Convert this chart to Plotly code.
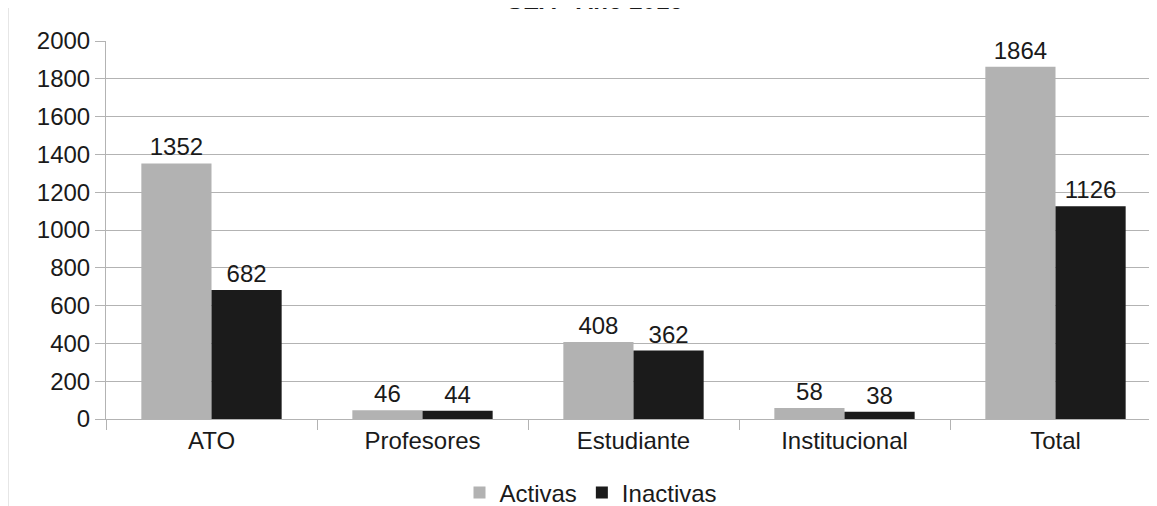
import plotly.graph_objects as go

categories = ["ATO", "Profesores", "Estudiante", "Institucional", "Total"]
activas = [1352, 46, 408, 58, 1864]
inactivas = [682, 44, 362, 38, 1126]
series_names = ["Activas", "Inactivas"]
title_text = "SEA - Año 2016"

# page body has an 8px offset; all positions below are figure pixels
OFF = 8
W, H = 1157, 506
L, T = 106 - OFF, 41 - OFF
B = H - (419 - OFF)
plot_right = 1161 - OFF
R = W - plot_right if plot_right < W else 0
pw = plot_right - L if plot_right < W else W - L
ph = H - T - B

FONT = "Liberation Sans, Arial, sans-serif"
fs = 24

fig = go.Figure()
fig.add_trace(go.Bar(
    x=categories, y=activas, name=series_names[0],
    marker=dict(color="#b2b2b2", line=dict(width=0)),
    text=activas, textposition="outside", cliponaxis=False,
    textfont=dict(family=FONT, size=fs, color="#1a1a1a"),
))
fig.add_trace(go.Bar(
    x=categories, y=inactivas, name=series_names[1],
    marker=dict(color="#1b1b1b", line=dict(width=0)),
    text=inactivas, textposition="outside", cliponaxis=False,
    textfont=dict(family=FONT, size=fs, color="#1a1a1a"),
))

fig.update_layout(
    width=W, height=H,
    margin=dict(l=L, r=R, t=T, b=B, pad=0, autoexpand=False),
    paper_bgcolor="white", plot_bgcolor="white",
    barmode="group", bargap=0.335, bargroupgap=0,
    font=dict(family=FONT, size=fs, color="#1a1a1a"),
    showlegend=True,
    legend=dict(orientation="h", xref="container", yref="container",
                x=(591 - OFF) / W, xanchor="center",
                y=1 - (493 - OFF) / H, yanchor="middle",
                font=dict(family=FONT, size=fs, color="#1a1a1a"),
                itemwidth=30, tracegroupgap=0, itemsizing="constant"),
)
fig.update_xaxes(
    range=[-0.5, 4.5], showgrid=False, automargin=False,
    showline=True, linecolor="#b3b3b3", linewidth=1,
    ticks="outside", tickson="boundaries", ticklen=10, tickcolor="#b3b3b3",
    tickfont=dict(family=FONT, size=fs, color="#1a1a1a"),
)
fig.update_yaxes(
    range=[0, 2000], dtick=200, showgrid=True, gridcolor="#b3b3b3", gridwidth=1,
    showline=True, linecolor="#b3b3b3", linewidth=1, automargin=False,
    ticks="outside", ticklen=10, tickcolor="#b3b3b3",
    tickfont=dict(family=FONT, size=fs, color="#1a1a1a"),
    zeroline=False,
)
fig.add_annotation(
    text="<b>" + title_text + "</b>", xref="paper", yref="paper",
    x=(595 - OFF - L) / pw, xanchor="center",
    y=1 + (T - 8) / ph, yanchor="bottom", showarrow=False,
    font=dict(family=FONT, size=fs, color="#1a1a1a"),
)
fig.add_shape(type="line", xref="paper", yref="paper",
              x0=(8 - OFF - L) / pw + 0.0005, x1=(8 - OFF - L) / pw + 0.0005,
              y0=-B / ph, y1=1 + T / ph,
              line=dict(color="#e6e6e6", width=1))

fig.write_html("out.html")
